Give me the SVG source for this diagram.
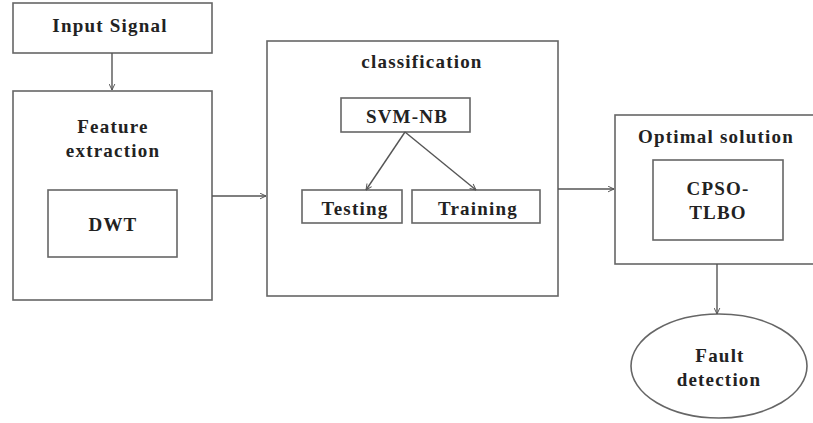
<svg xmlns="http://www.w3.org/2000/svg" width="813" height="423" viewBox="0 0 813 423">
<defs>
<style>
.box{fill:#fff;stroke:#666;stroke-width:1.6}
.t{font-family:'Liberation Serif','Times New Roman',Tinos,'DejaVu Serif',serif;font-weight:700;font-size:19px;letter-spacing:1.2px;fill:#222;text-anchor:middle}
.c{fill:none;stroke:#555;stroke-width:1.4}
</style>
<marker id="ah" viewBox="0 0 10 10" refX="9.5" refY="5" markerWidth="7" markerHeight="7" orient="auto" markerUnits="userSpaceOnUse">
<path d="M1,1 L9.5,5 L1,9" fill="none" stroke="#555" stroke-width="1.4"/>
</marker>
</defs>
<rect width="813" height="423" fill="#fff"/>
<g id="input">
<rect class="box" x="13" y="3" width="199" height="50"/>
<text class="t" x="110" y="32" font-family="Liberation Serif, serif">Input Signal</text>
</g>
<g id="feature">
<rect class="box" x="13" y="91" width="199" height="209"/>
<text class="t" x="113" y="133">Feature</text>
<text class="t" x="113" y="157">extraction</text>
</g>
<g id="dwt">
<rect class="box" x="48" y="190" width="129" height="67"/>
<text class="t" x="113" y="231">DWT</text>
</g>
<g id="classification">
<rect class="box" x="267" y="41" width="291" height="255"/>
<text class="t" x="422" y="68">classification</text>
</g>
<g id="svmnb">
<rect class="box" x="341" y="98" width="129" height="34"/>
<text class="t" x="407" y="123">SVM-NB</text>
</g>
<g id="testing">
<rect class="box" x="302" y="190" width="100" height="33"/>
<text class="t" x="355" y="215">Testing</text>
</g>
<g id="training">
<rect class="box" x="412" y="190" width="128" height="33"/>
<text class="t" x="478" y="215">Training</text>
</g>
<g id="optimal">
<rect class="box" x="615" y="115" width="205" height="149"/>
<text class="t" x="716" y="143">Optimal solution</text>
</g>
<g id="cpso">
<rect class="box" x="653" y="160" width="130" height="80"/>
<text class="t" x="718" y="195">CPSO-</text>
<text class="t" x="718" y="219">TLBO</text>
</g>
<g id="fault">
<ellipse class="box" cx="719" cy="366" rx="88" ry="52"/>
<text class="t" x="720" y="362">Fault</text>
<text class="t" x="719" y="386">detection</text>
</g>
<g id="connectors">
<line class="c" x1="112" y1="53" x2="112" y2="90" marker-end="url(#ah)"/>
<line class="c" x1="212" y1="196" x2="266" y2="196" marker-end="url(#ah)"/>
<line class="c" x1="405" y1="132" x2="366" y2="190" marker-end="url(#ah)"/>
<line class="c" x1="405" y1="132" x2="476" y2="190" marker-end="url(#ah)"/>
<line class="c" x1="558" y1="189" x2="614" y2="189" marker-end="url(#ah)"/>
<line class="c" x1="717" y1="264" x2="717" y2="314" marker-end="url(#ah)"/>
</g>
</svg>
